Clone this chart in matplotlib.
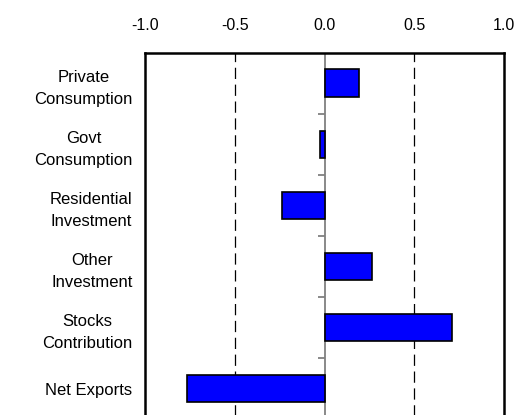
import numpy as np
from matplotlib import pyplot as plt

plt.rcParams["font.family"] = ["Liberation Sans", "DejaVu Sans"]

# contributions to growth, percentage points
categories = [
    "Private\nConsumption",
    "Govt\nConsumption",
    "Residential\nInvestment",
    "Other\nInvestment",
    "Stocks\nContribution",
    "Net Exports",
]
values = [0.19, -0.023, -0.235, 0.265, 0.71, -0.765]
xticks = [-1.0, -0.5, 0.0, 0.5, 1.0]

fig = plt.figure(figsize=(5.3, 4.15), dpi=100)
ax = fig.add_axes([0.2736, -0.0099, 0.6774, 0.8829])

y = np.arange(len(categories))
ax.barh(y, values, height=0.45, color="#0000ff", edgecolor="black",
        linewidth=1.2, zorder=3)

# zero line with small ticks between categories
ax.axvline(0, color="#808080", linewidth=1.3, zorder=2)
ax.hlines(y[:-1] + 0.5, -0.035, 0, color="#808080", linewidth=1.3, zorder=2)

for xv in (-0.5, 0.5):
    ax.axvline(xv, color="black", linewidth=0.9, dashes=(9, 4.5), zorder=1)

ax.set_xlim(-1.0, 1.0)
ax.set_ylim(len(categories) - 0.5, -0.5)
ax.set_xticks(xticks)
ax.set_xticklabels([f"{v:.1f}" for v in xticks])
ax.set_yticks(y)
ax.set_yticklabels(categories, multialignment="center", linespacing=1.6)

ax.xaxis.tick_top()
ax.tick_params(axis="x", length=0, pad=14, labelsize=11.5)
ax.tick_params(axis="y", length=0, pad=9, labelsize=12)

for side in ("top", "left", "right", "bottom"):
    ax.spines[side].set_linewidth(1.8)
    ax.spines[side].set_color("black")

fig.savefig("out.png", dpi=100)
